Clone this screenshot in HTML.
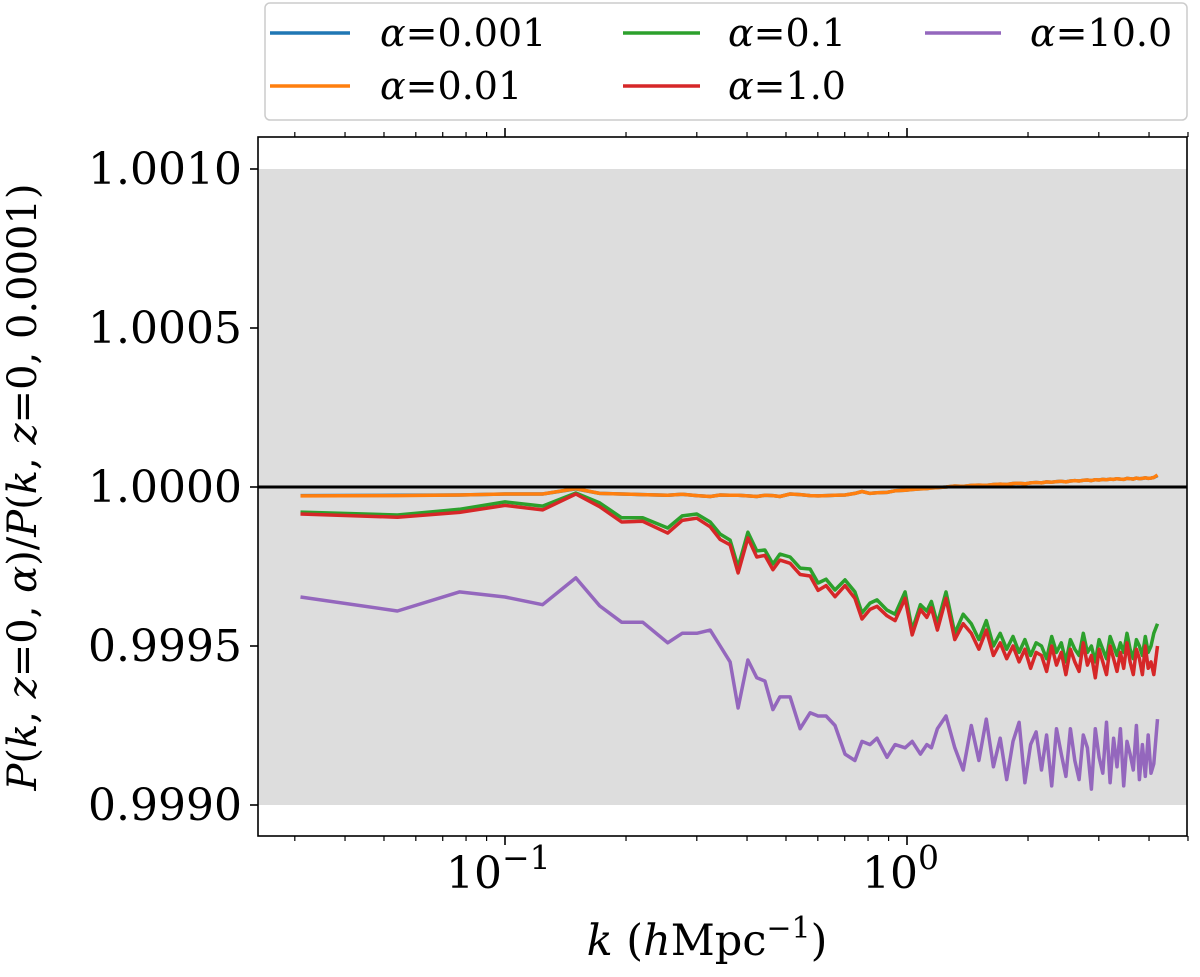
<!DOCTYPE html>
<html><head><meta charset="utf-8"><style>
body{margin:0;background:#fff;}
svg text{font-family:"DejaVu Serif","Liberation Serif",serif;}
</style></head><body>
<svg width="1200" height="972" viewBox="0 0 1200 972" xmlns="http://www.w3.org/2000/svg">
<g id="root"></g>
</svg>
<script>
const kLow=[0.031,0.054,0.077,0.1,0.124,0.150,0.172,0.195,0.220,0.254,0.276,0.300,0.324,0.343,0.363,0.380,0.402,0.423,0.443,0.464,0.483,0.512,0.542,0.574,0.601,0.629,0.662,0.701,0.742,0.773,0.809,0.842,0.892,0.934,0.989,1.03,1.08,1.12,1.15,1.19];
const kHigh=[1.25,1.315,1.38,1.445,1.51,1.575,1.64,1.705,1.77,1.835,1.9,1.965,2.03,2.095,2.16,2.225,2.29,2.355,2.42,2.485,2.55,2.615,2.68,2.745,2.81,2.875,2.94,3.005,3.07,3.135,3.2,3.265,3.33,3.395,3.46,3.525,3.59,3.655,3.72,3.785,3.85,3.915,3.98,4.045,4.11,4.2];
const orangeLow=[-0.28,-0.27,-0.25,-0.22,-0.22,-0.05,-0.2,-0.22,-0.24,-0.26,-0.23,-0.27,-0.3,-0.25,-0.26,-0.26,-0.28,-0.3,-0.26,-0.27,-0.3,-0.22,-0.24,-0.27,-0.28,-0.27,-0.26,-0.25,-0.2,-0.14,-0.2,-0.18,-0.17,-0.12,-0.1,-0.08,-0.06,-0.05,-0.03,-0.02];
const orangeHigh=[0.0,0.03,0.02,0.05,0.06,0.05,0.08,0.09,0.08,0.11,0.12,0.1,0.13,0.14,0.13,0.16,0.15,0.17,0.18,0.16,0.19,0.2,0.19,0.21,0.22,0.2,0.23,0.22,0.24,0.23,0.25,0.24,0.26,0.25,0.24,0.27,0.26,0.25,0.28,0.26,0.27,0.29,0.27,0.28,0.3,0.38];
const blueLow=[-0.27,-0.26,-0.25,-0.22,-0.22,-0.06,-0.2,-0.22,-0.24,-0.26,-0.23,-0.27,-0.3,-0.25,-0.26,-0.26,-0.28,-0.3,-0.26,-0.27,-0.3,-0.22,-0.24,-0.27,-0.28,-0.27,-0.26,-0.25,-0.2,-0.14,-0.2,-0.18,-0.17,-0.12,-0.1,-0.08,-0.06,-0.05,-0.03,-0.02];
const blueHigh=[0.0,0.03,0.02,0.05,0.06,0.05,0.08,0.09,0.08,0.11,0.12,0.1,0.13,0.14,0.13,0.16,0.15,0.17,0.18,0.16,0.19,0.2,0.19,0.21,0.22,0.2,0.23,0.22,0.24,0.23,0.25,0.24,0.26,0.25,0.24,0.27,0.26,0.25,0.28,0.26,0.27,0.29,0.27,0.28,0.3,0.36];
const greenLow=[-0.79,-0.88,-0.7,-0.47,-0.6,-0.19,-0.5,-0.97,-0.97,-1.29,-0.91,-0.85,-1.1,-1.48,-1.67,-2.52,-1.42,-2.01,-1.98,-2.42,-2.11,-2.2,-2.55,-2.58,-3.02,-2.9,-3.24,-2.92,-3.3,-3.96,-3.65,-3.55,-3.87,-4.0,-3.3,-4.5,-3.7,-3.9,-3.6,-4.3];
const greenHigh=[-3.3,-4.6,-4.0,-4.3,-4.8,-4.2,-5.0,-4.6,-5.1,-4.7,-5.2,-4.8,-5.3,-4.9,-5.0,-5.4,-4.7,-5.2,-4.9,-5.5,-4.8,-5.1,-5.3,-4.6,-5.2,-5.0,-5.5,-4.8,-5.1,-5.4,-4.7,-5.0,-5.3,-4.9,-5.2,-4.6,-5.1,-5.4,-4.8,-5.0,-5.3,-4.7,-5.2,-5.0,-4.6,-4.3];
const redLow=[-0.85,-0.95,-0.8,-0.58,-0.72,-0.22,-0.62,-1.1,-1.08,-1.45,-1.05,-0.98,-1.25,-1.65,-1.82,-2.7,-1.6,-2.2,-2.15,-2.6,-2.3,-2.4,-2.75,-2.8,-3.25,-3.1,-3.45,-3.1,-3.5,-4.15,-3.85,-3.75,-4.05,-4.2,-3.5,-4.65,-3.85,-4.1,-3.8,-4.5];
const redHigh=[-3.5,-4.8,-4.3,-4.6,-5.1,-4.5,-5.3,-4.9,-5.4,-5.0,-5.5,-5.1,-5.7,-5.2,-5.3,-5.8,-5.0,-5.6,-5.2,-5.9,-5.1,-5.5,-5.8,-4.9,-5.6,-5.3,-6.0,-5.1,-5.5,-5.9,-5.0,-5.4,-5.8,-5.2,-5.7,-4.9,-5.5,-5.9,-5.1,-5.4,-5.9,-5.0,-5.7,-5.5,-5.9,-5.0];
const purpleLow=[-3.46,-3.9,-3.3,-3.46,-3.7,-2.86,-3.74,-4.25,-4.25,-4.9,-4.6,-4.6,-4.5,-5.0,-5.5,-6.95,-5.44,-6.0,-6.1,-7.0,-6.6,-6.6,-7.6,-7.1,-7.2,-7.2,-7.5,-8.4,-8.6,-8.0,-8.1,-7.9,-8.5,-8.1,-8.2,-8.0,-8.4,-8.1,-8.2,-7.6];
const purpleHigh=[-7.2,-8.2,-8.9,-7.5,-8.6,-7.3,-8.8,-7.9,-9.2,-8.0,-7.4,-9.3,-8.1,-7.7,-8.9,-7.8,-9.4,-7.6,-8.4,-9.1,-7.6,-8.6,-9.2,-7.8,-8.2,-9.5,-7.6,-8.5,-9.0,-7.4,-9.3,-7.9,-8.8,-7.6,-9.4,-8.0,-8.4,-8.9,-7.5,-9.2,-8.1,-9.1,-7.8,-9.0,-8.7,-7.3];
const yTicks=[1.0010,1.0005,1.0000,0.9995,0.9990];
const yTickLabels=["1.0010","1.0005","1.0000","0.9995","0.9990"];
const xMajor=[0.1,1];
const xMinor=[0.03,0.04,0.05,0.06,0.07,0.08,0.09,0.2,0.3,0.4,0.5,0.6,0.7,0.8,0.9,2,3,4,5];

const NS="http://www.w3.org/2000/svg";
const root=document.getElementById('root');
const L=258,R=1187,T=137,B=836;
function xS(k){return 907+402*Math.log10(k);}
function yS(v){return 487-(v-1)/0.0005*159;}
function mk(tag,attrs,parent){const e=document.createElementNS(NS,tag);for(const a in attrs)e.setAttribute(a,attrs[a]);(parent||root).appendChild(e);return e;}
const kAll=kLow.concat(kHigh);

let band=mk('rect',{x:L,y:yS(1.0010),width:R-L,height:yS(0.9990)-yS(1.0010),fill:'#dddddd'});



const order=[["blue",blueLow.concat(blueHigh),"#1f77b4"],["orange",orangeLow.concat(orangeHigh),"#ff7f0e"],["green",greenLow.concat(greenHigh),"#2ca02c"],["red",redLow.concat(redHigh),"#d62728"],["purple",purpleLow.concat(purpleHigh),"#9467bd"]];
order.forEach(s=>{
  const pts=kAll.map((k,i)=>xS(k).toFixed(1)+","+yS(1+s[1][i]*1e-4).toFixed(1)).join(" ");
  const p=mk('polyline',{points:pts,fill:'none',stroke:s[2],'stroke-width':3.5,'stroke-linejoin':'round'});
  
  
});
let ref=mk('line',{x1:L,x2:R,y1:yS(1),y2:yS(1),stroke:'#000','stroke-width':3});



let frame=mk('rect',{x:L,y:T,width:R-L,height:B-T,fill:'none',stroke:'#000','stroke-width':1.6});



yTicks.forEach((v,i)=>{
  const y=yS(v);
  const t=mk('line',{x1:L-8,x2:L,y1:y,y2:y,stroke:'#000','stroke-width':1.6});
  
  
  const tx=mk('text',{x:L-16,y:y+15,'text-anchor':'end','font-size':44});
  tx.textContent=yTickLabels[i];
  
  
});
xMajor.forEach(k=>{
  const x=xS(k);
  [[B,B+9],[T,T-9]].forEach(a=>{const t=mk('line',{x1:x,x2:x,y1:a[0],y2:a[1],stroke:'#000','stroke-width':1.6});
  
  });
});
xMinor.forEach(k=>{
  const x=xS(k);
  [[B,B+5],[T,T-5]].forEach(a=>{const t=mk('line',{x1:x,x2:x,y1:a[0],y2:a[1],stroke:'#000','stroke-width':1.2});
  
  });
});
</script>
<svg style="position:absolute;left:0;top:0" width="1200" height="972" xmlns="http://www.w3.org/2000/svg">
<text x="446" y="888" font-size="44" font-family="DejaVu Serif,serif">10<tspan dy="-19" font-size="33">−1</tspan></text>
<text x="862" y="888" font-size="44" font-family="DejaVu Serif,serif">10<tspan dy="-19" font-size="33">0</tspan></text>
<text x="707" y="955" text-anchor="middle" font-size="43" font-family="DejaVu Serif,serif"><tspan font-style="italic">k</tspan> (<tspan font-style="italic">h</tspan>Mpc<tspan dy="-17" font-size="30">−1</tspan><tspan dy="17">)</tspan></text>
<text transform="translate(36,487) rotate(-90)" text-anchor="middle" font-size="40" font-family="DejaVu Serif,serif"><tspan font-style="italic">P</tspan>(<tspan font-style="italic">k</tspan>, <tspan font-style="italic">z</tspan>=0, <tspan font-style="italic">α</tspan>)/<tspan font-style="italic">P</tspan>(<tspan font-style="italic">k</tspan>, <tspan font-style="italic">z</tspan>=0, 0.0001)</text>
<g>
<rect x="265" y="3" width="922" height="117" rx="5" fill="#fff" stroke="#cccccc" stroke-width="1.5"/>
<g font-size="38" font-family="DejaVu Serif,serif">
<line x1="270" x2="350" y1="33" y2="33" stroke="#1f77b4" stroke-width="3.5"/><text x="380" y="46"><tspan font-style="italic">α</tspan>=0.001</text>
<line x1="270" x2="350" y1="86" y2="86" stroke="#ff7f0e" stroke-width="3.5"/><text x="380" y="99"><tspan font-style="italic">α</tspan>=0.01</text>
<line x1="623" x2="700" y1="33" y2="33" stroke="#2ca02c" stroke-width="3.5"/><text x="728" y="46"><tspan font-style="italic">α</tspan>=0.1</text>
<line x1="623" x2="700" y1="86" y2="86" stroke="#d62728" stroke-width="3.5"/><text x="728" y="99"><tspan font-style="italic">α</tspan>=1.0</text>
<line x1="925" x2="1001" y1="33" y2="33" stroke="#9467bd" stroke-width="3.5"/><text x="1030" y="46"><tspan font-style="italic">α</tspan>=10.0</text>
</g></g>
</svg>
</body></html>
